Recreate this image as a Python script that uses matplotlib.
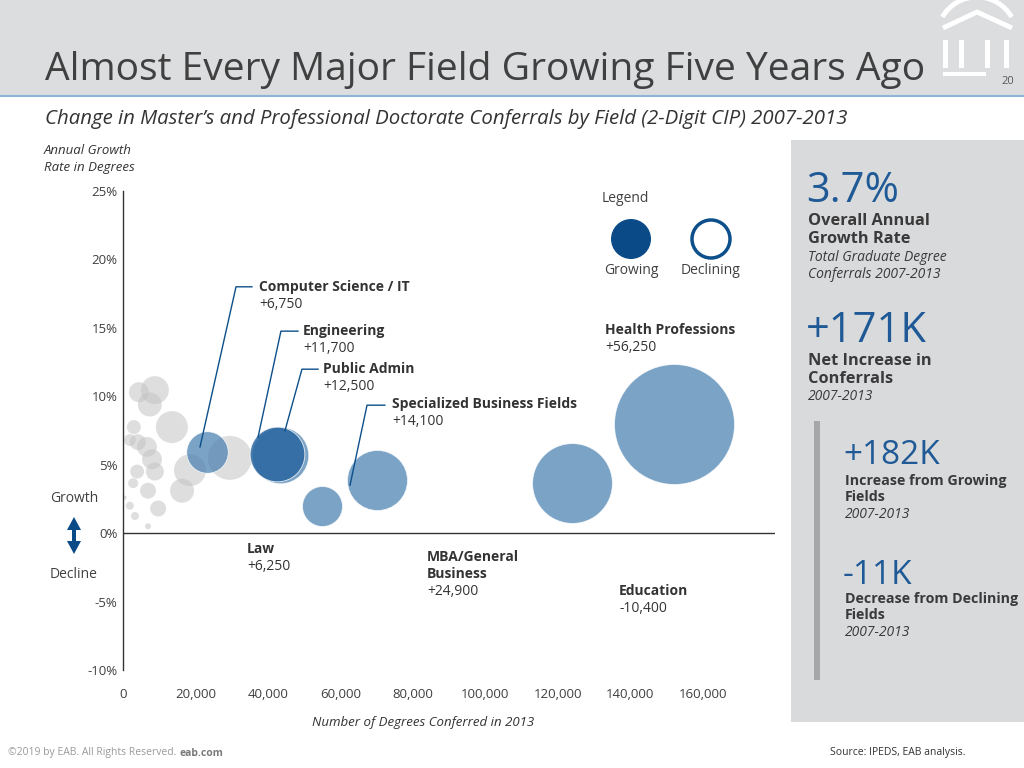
import numpy as np
import matplotlib
matplotlib.use("Agg")
import matplotlib.pyplot as plt
from matplotlib.patches import Rectangle, Circle, Arc, Polygon

plt.rcParams['font.family'] = ['Open Sans', 'DejaVu Sans']

# Highlighted fields: degrees conferred 2013, annual growth %, change 2007-2013
field_names = ['Computer Science / IT', 'Public Admin', 'Engineering',
               'Specialized Business Fields', 'Health Professions', 'Law',
               'MBA/General Business']
field_x = [23200, 43300, 42500, 70000, 152000, 55000, 124000]
field_y = [5.9, 5.7, 5.75, 3.9, 8.0, 2.0, 3.65]
field_change = [6750, 12500, 11700, 14100, 56250, 6250, 24900]

# Other fields (grey background bubbles)
other_x = [4400, 8800, 7400, 13500, 3000, 1900, 6600, 8000, 8800, 18500,
           16300, 9700, 6900, 2800, 1900, 3300, 6900, 500, 29500, 3900, 4100]
other_y = [10.3, 10.45, 9.4, 7.75, 7.75, 6.8, 6.3, 5.4, 4.5, 4.6,
           3.1, 1.8, 3.1, 3.65, 2.0, 1.25, 0.5, 2.6, 5.5, 4.5, 6.65]
other_change = [1560, 3060, 2250, 4000, 760, 560, 1560, 1560, 1260, 4000,
                2250, 1000, 1000, 390, 250, 250, 140, 60, 7550, 760, 1000]

# Labels: (name, value text)
labels = [('Computer Science / IT', '+6,750'), ('Engineering', '+11,700'),
          ('Public Admin', '+12,500'), ('Specialized Business Fields', '+14,100'),
          ('Health Professions', '+56,250'), ('Law', '+6,250'),
          ('MBA/General\nBusiness', '+24,900'), ('Education', '-10,400')]
label_pos = [(37550, 17.97), (49700, 14.76), (55200, 11.98), (74300, 9.43),
             (133100, 14.83), (34240, -1.17), (83930, -1.75), (136940, -4.24)]
leaders = [((31200, 35600, 18.0), (21260, 6.3)),
           ((43600, 48300, 14.76), (37270, 7.0)),
           ((49400, 53840, 11.98), (44730, 7.5)),
           ((67370, 72300, 9.35), (62670, 3.5))]

x_ticks = [0, 20000, 40000, 60000, 80000, 100000, 120000, 140000, 160000]
y_ticks = [-10, -5, 0, 5, 10, 15, 20, 25]

W, H = 1024, 768
fig = plt.figure(figsize=(W / 100, H / 100), dpi=100)

# background layer in pixel coordinates
bg = fig.add_axes([0, 0, 1, 1], zorder=-1)
bg.set_xlim(0, W)
bg.set_ylim(H, 0)
bg.axis('off')
bg.add_patch(Rectangle((0, 0), W, 95, color='#dcdddf', lw=0))
bg.plot([0, W], [95.5, 95.5], color='#8fb4d9', lw=1.5)
bg.add_patch(Rectangle((791, 140), W - 791, 582, color='#d9dadc', lw=0))
bg.add_patch(Rectangle((814, 421), 6, 259, color='#a6a7a9', lw=0))

# logo
bg.add_patch(Arc((977, 37), 80, 80, theta1=210, theta2=330, color='white', lw=3.5))
bg.plot([943, 977, 1012], [28, 12, 28], color='white', lw=3.5, solid_capstyle='butt')
for px in [945, 961, 987, 1006]:
    bg.add_patch(Rectangle((px - 2.5, 40), 5, 28, color='white', lw=0))
bg.add_patch(Rectangle((943, 72), 43, 4, color='white', lw=0))

bg.text(45, 70, 'Almost Every Major Field Growing Five Years Ago', fontsize=28.1,
        color='#404040', va='center', ha='left')
bg.text(1008, 81, '20', fontsize=8, color='#595959', ha='center', va='center')
bg.text(45, 119, 'Change in Master\u2019s and Professional Doctorate Conferrals by Field (2-Digit CIP) 2007-2013',
        fontsize=14.7, style='italic', color='#333333', va='center')
bg.text(44, 159, 'Annual Growth\nRate in Degrees', fontsize=9.5, style='italic',
        color='#333333', va='center', linespacing=1.35)

# growth / decline marker
arrow_col = '#0a4a86'
bg.text(74, 499, 'Growth', fontsize=10, color='#404040', ha='center', va='center')
bg.text(74, 574, 'Decline', fontsize=10, color='#404040', ha='center', va='center')
bg.add_patch(Rectangle((72, 528), 4, 15, color=arrow_col, lw=0))
bg.add_patch(Polygon([(74, 517), (81, 530), (67, 530)], closed=True, color=arrow_col, lw=0))
bg.add_patch(Polygon([(74, 554), (81, 541), (67, 541)], closed=True, color=arrow_col, lw=0))

# legend
bg.text(602, 198, 'Legend', fontsize=10, color='#404040', va='center')
bg.add_patch(Circle((631, 239), 20, color='#0a4a86', lw=0))
bg.add_patch(Circle((711, 239), 19, facecolor='white', edgecolor='#0d4f8b', lw=2.5))
bg.text(631, 271, 'Growing', fontsize=10, color='#404040', ha='center', va='center')
bg.text(711, 271, 'Declining', fontsize=10, color='#404040', ha='center', va='center')

# right panel
blue = '#1f5a96'
dark = '#3a3a3a'
bg.text(806, 191, '3.7%', fontsize=30, color=blue, va='center')
bg.text(808, 230, 'Overall Annual\nGrowth Rate', fontsize=11.8, fontweight='bold',
        color=dark, va='center', linespacing=1.2)
bg.text(808, 266, 'Total Graduate Degree\nConferrals 2007-2013', fontsize=10,
        style='italic', color=dark, va='center', linespacing=1.25)
bg.text(806, 331, '+171K', fontsize=30, color=blue, va='center')
bg.text(808, 370, 'Net Increase in\nConferrals', fontsize=11.8, fontweight='bold',
        color=dark, va='center', linespacing=1.2)
bg.text(808, 397, '2007-2013', fontsize=10, style='italic', color=dark, va='center')
bg.text(843, 456, '+182K', fontsize=24, color=blue, va='center')
bg.text(845, 489, 'Increase from Growing\nFields', fontsize=10.3, fontweight='bold',
        color=dark, va='center', linespacing=1.2)
bg.text(845, 514, '2007-2013', fontsize=10, style='italic', color=dark, va='center')
bg.text(843, 575, '-11K', fontsize=24, color=blue, va='center')
bg.text(845, 607, 'Decrease from Declining\nFields', fontsize=10.3, fontweight='bold',
        color=dark, va='center', linespacing=1.2)
bg.text(845, 632, '2007-2013', fontsize=10, style='italic', color=dark, va='center')

# footer
bg.text(8, 753, '\u00a92019 by EAB. All Rights Reserved.', fontsize=7.5, color='#9a9a9a', va='center')
bg.text(180, 753, 'eab.com', fontsize=7.5, color='#7a7a7a', fontweight='bold', va='center')
bg.text(966, 753, 'Source: IPEDS, EAB analysis.', fontsize=7.5, color='#333333',
        ha='right', va='center')

# main chart
ax = fig.add_axes([123 / W, 1 - 670 / H, 652 / W, 479 / H])
ax.patch.set_alpha(0)
ax.set_xlim(0, 180000)
ax.set_ylim(-10, 25)

size_k = (2 * 0.72 * 60) ** 2 / 56250
ax.scatter(other_x, other_y, s=np.array(other_change) * size_k, color='#c4c4c4',
           alpha=0.55, edgecolors='none', zorder=2)
colors = ['#4f84b3'] * len(field_names)
alphas = [0.75] * len(field_names)
colors[2] = '#2a66a0'
alphas[2] = 0.85
for xx, yy, cc, col, al in zip(field_x, field_y, field_change, colors, alphas):
    ax.scatter(xx, yy, s=cc * size_k, color=col, alpha=al, edgecolors='white',
               linewidths=0.6, zorder=3)

step = 1.24
for (name, val), (lx, ly) in zip(labels, label_pos):
    n_lines = name.count('\n') + 1
    ax.text(lx, ly - step * (n_lines - 1) / 2, name, fontsize=10, fontweight='bold',
            color='#333333', va='center', linespacing=1.22, zorder=5)
    ax.text(lx, ly - step * n_lines, val, fontsize=10, color='#333333',
            va='center', zorder=5)

for (x0, x1, yl), (xe, ye) in leaders:
    ax.plot([xe, x0, x1], [ye, yl, yl], color='#0d4f8b', lw=1, zorder=4)

ax.axhline(0, color='#333333', lw=1, zorder=1)
for s in ['top', 'right', 'bottom']:
    ax.spines[s].set_visible(False)
ax.spines['left'].set_color('#333333')
ax.spines['left'].set_linewidth(1)

ax.set_xticks(x_ticks)
ax.set_xticklabels([f'{v:,}' for v in x_ticks])
ax.set_yticks(y_ticks)
ax.set_yticklabels([f'{v}%' for v in y_ticks])
ax.tick_params(axis='both', length=0, labelsize=9.5, labelcolor='#404040')
ax.tick_params(axis='x', pad=13)
ax.tick_params(axis='y', pad=4)
ax.set_xlabel('Number of Degrees Conferred in 2013', fontsize=9.5,
              style='italic', color='#333333')
ax.xaxis.set_label_coords(300 / 652, -46 / 479)

fig.savefig('out.png', dpi=100)
